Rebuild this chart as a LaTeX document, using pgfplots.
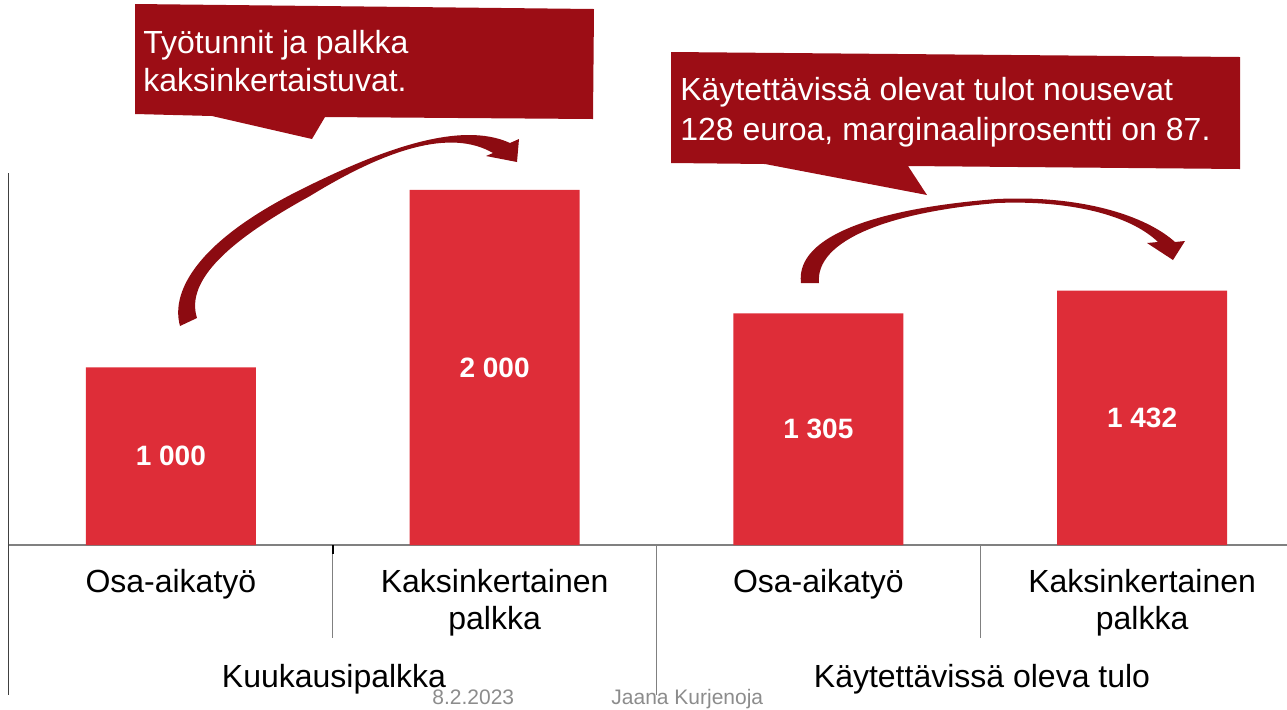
\documentclass[border=0pt]{standalone}
\usepackage{pgfplots}
\pgfplotsset{compat=1.18}
\usepackage{fontspec}
\setmainfont{Liberation Sans}
\definecolor{barred}{HTML}{DE2D38}
\definecolor{boxred}{HTML}{9C0D15}
\definecolor{arrowred}{HTML}{8C0B11}
\definecolor{footgray}{HTML}{8C8C8C}

\begin{document}
\begin{tikzpicture}
\path[use as bounding box] (0,0) rectangle (643.5pt,-354.5pt);
\begin{axis}[
    at={(4.5pt,-272.5pt)}, anchor=south west,
    scale only axis, width=647.5pt, height=186pt,
    xmin=-0.5, xmax=3.5, ymin=0, ymax=2095,
    axis x line*=bottom, axis y line*=left,
    x axis line style={draw=gray, line width=0.6pt},
    y axis line style={draw=black!75, line width=0.5pt},
    ybar, bar width=85pt, bar shift=0pt,
    xtick={0,1,2,3}, ytick=\empty,
    major tick length=0pt,
    xticklabels={Osa-aikatyö, Kaksinkertainen\\palkka, Osa-aikatyö, Kaksinkertainen\\palkka},
    xticklabel style={align=center, anchor=north, yshift=-8.5pt,
        font=\fontsize{16}{18.5}\selectfont},
    clip=false,
]
\addplot[draw=none, fill=barred] coordinates {(0,1000) (1,2000) (2,1305) (3,1432)};
\foreach \x/\v/\t in {0/500/1 000, 1/1000/2 000, 2/652.5/1 305, 3/716/1 432}{
  \edef\temp{\noexpand\node[text=white, font=\noexpand\fontsize{14}{16}\noexpand\bfseries] at (axis cs:\x,\v) {\t};}
  \temp
}
% category separators below the axis
\draw[black!75, line width=0.5pt] (axis cs:-0.5,0) -- ++(0pt,-75pt);
\draw[gray, line width=0.6pt] (axis cs:0.5,0) -- ++(0pt,-46.5pt);
\draw[black, line width=0.8pt] (axis cs:0.5,0) -- ++(0pt,-4.5pt);
\draw[gray, line width=0.6pt] (axis cs:1.5,0) -- ++(0pt,-75pt);
\draw[gray, line width=0.6pt] (axis cs:2.5,0) -- ++(0pt,-46.5pt);
\end{axis}

\begin{scope}[x=0.5pt, y=-0.5pt, font=\fontsize{16}{18.5}\selectfont]
% group labels and footer
\node[anchor=base] at (334,687) {Kuukausipalkka};
\node[anchor=base] at (982,687) {Käytettävissä oleva tulo};
\node[anchor=base west, inner sep=0pt, text=footgray, font=\fontsize{10.5}{12}\selectfont] at (432,704) {8.2.2023};
\node[anchor=base west, inner sep=0pt, text=footgray, font=\fontsize{10.5}{12}\selectfont] at (611,704) {Jaana Kurjenoja};

% callout 1
\fill[boxred] (135,4) -- (594,9) -- (593,119) -- (325,117) -- (312,139) -- (212,116) -- (135,114) -- cycle;
\node[anchor=base west, inner sep=0pt, text=white] at (143,53) {Työtunnit ja palkka};
\node[anchor=base west, inner sep=0pt, text=white] at (143,91) {kaksinkertaistuvat.};

% callout 2
\fill[boxred] (671,52) -- (1240,57) -- (1240,169) -- (908,166) -- (927,195) -- (765,164) -- (671,163) -- cycle;
\node[anchor=base west, inner sep=0pt, text=white] at (680,100) {Käytettävissä olevat tulot nousevat};
\node[anchor=base west, inner sep=0pt, text=white] at (680,140) {128 euroa, marginaaliprosentti on 87.};

% curved arrow 1
\fill[arrowred] (180,326) .. controls (170,290) and (200,240) .. (300,190)
  .. controls (380,150) and (460,120) .. (510,143)
  -- (519,139) -- (517,162) -- (486,156) -- (493,153)
  .. controls (450,128) and (385,150) .. (310,196)
  .. controls (230,240) and (185,280) .. (197,318)
  -- cycle;

% curved arrow 2
\fill[arrowred] (801,283) .. controls (795,235) and (880,208) .. (997,199)
  .. controls (1080,195) and (1145,215) .. (1175,242)
  -- (1185,241) -- (1173,260) -- (1147,243) -- (1158,242)
  .. controls (1130,215) and (1070,200) .. (997,203)
  .. controls (890,212) and (815,240) .. (819,283)
  -- cycle;
\end{scope}
\end{tikzpicture}
\end{document}
